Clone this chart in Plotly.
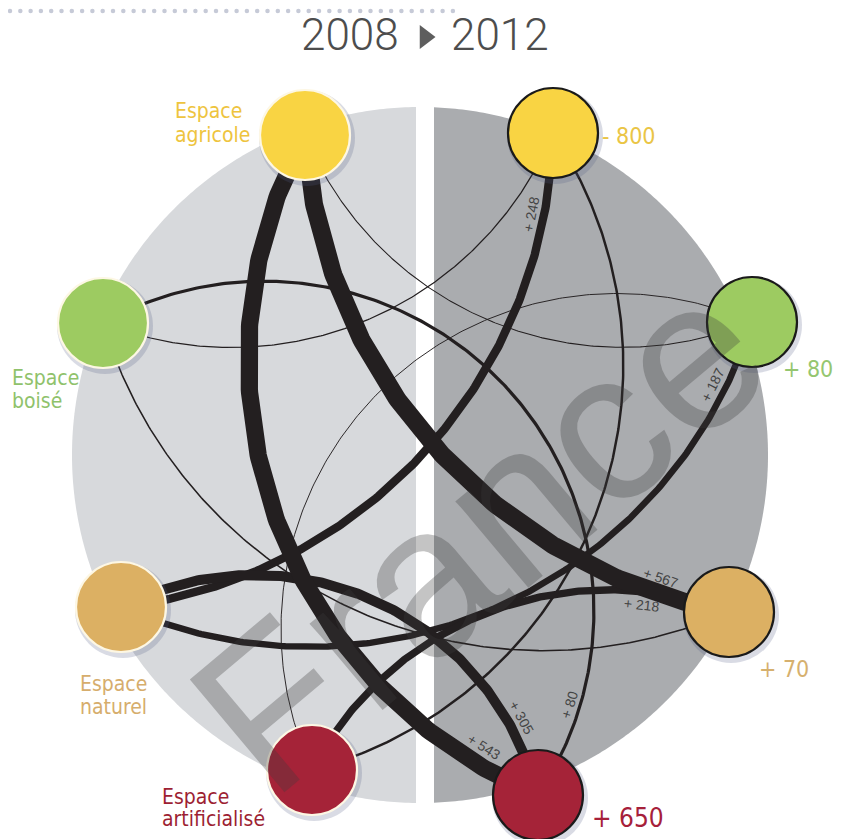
import numpy as np
import plotly.graph_objects as go

# ---------------- data ----------------
categories = ["agricole", "boisé", "naturel", "artificialisé"]
cat_label_lines = [["Espace", "agricole"], ["Espace", "boisé"],
                   ["Espace", "naturel"], ["Espace", "artificialisé"]]
net_change_labels = ["- 800", "+ 80", "+ 70", "+ 650"]
year_start = "2008"
year_end = "2012"
watermark = "France"

flow_source = ["agricole", "agricole", "agricole",
               "boisé", "boisé", "boisé",
               "naturel", "naturel", "naturel",
               "artificialisé", "artificialisé", "artificialisé"]
flow_target = ["boisé", "naturel", "artificialisé",
               "agricole", "naturel", "artificialisé",
               "agricole", "boisé", "artificialisé",
               "agricole", "boisé", "naturel"]
flow_value = [8, 567, 543, 15, 25, 80, 248, 187, 305, 55, 5, 218]
flow_labelled = [False, True, True, False, False, True, True, True, True, False, False, True]

# ---------------- layout / style ----------------
W, H = 843, 839
PAGE_OFF = 8          # browser default body margin
BG_CX, BG_CY, BG_R = 420, 455, 348
GAP_L, GAP_R = 416, 434
node_left = {"agricole": (305, 135), "boisé": (103, 323), "naturel": (121, 607), "artificialisé": (312, 770)}
node_right = {"agricole": (553, 133), "boisé": (752, 322), "naturel": (729, 612), "artificialisé": (538, 795)}
NODE_D = 90
node_fill = {"agricole": "#f9d443", "boisé": "#9dcb61", "naturel": "#dcb063", "artificialisé": "#a52338"}
label_color = {"agricole": "#eec43e", "boisé": "#8fc26b", "naturel": "#d6ad6c", "artificialisé": "#9d1f33"}
net_color = {"agricole": "#eac545", "boisé": "#95c670", "naturel": "#d6b06e", "artificialisé": "#a6203a"}
# sagitta of each flow arc (px, signed)
flow_bend = [100, 110, 155, 100, 155, -253, 120, 155, -110, 175, -217, -85]
# label placement: fraction along arc, perpendicular offset
flow_label_t = [0, 0.89, 0.91, 0, 0, 0.89, 0.88, 0.905, 0.855, 0, 0, 0.82]
flow_label_off = [0, -16, -18, 0, 0, 11, -13, -13, -14, 0, 0, 13]

label_pos = {"agricole": (173, 111, 135), "boisé": (10, 378, 401),
             "naturel": (78, 684, 707), "artificialisé": (160, 797, 819)}
net_pos = {"agricole": (600, 136, "left"), "boisé": (835, 369, "right"),
           "naturel": (757, 669, "left"), "artificialisé": (590, 818, "left")}

NARROW = "DejaVu Sans Condensed, Liberation Sans Narrow, sans-serif"
LINE_COL = "#231f20"


def width_of(v):
    return 0.8 + v / 33.0


def arc(p0, p1, h):
    p0 = np.asarray(p0, float)
    p1 = np.asarray(p1, float)
    d = p1 - p0
    c = np.hypot(*d)
    u = d / c
    nv = np.array([-u[1], u[0]])
    mid = (p0 + p1) / 2
    R = (c * c / 4 + h * h) / (2 * h)
    ctr = mid + nv * (h - R)
    a0 = np.arctan2(p0[1] - ctr[1], p0[0] - ctr[0])
    a1 = np.arctan2(p1[1] - ctr[1], p1[0] - ctr[0])
    da = (a1 - a0 + np.pi) % (2 * np.pi) - np.pi
    return ctr, abs(R), a0, da


def arc_xy(ctr, r, a0, da, t):
    a = a0 + da * np.asarray(t)
    return ctr[0] + r * np.cos(a), ctr[1] + r * np.sin(a)


fig = go.Figure()


def half_path(side):
    if side == "L":
        dl = np.arcsin((GAP_L - BG_CX) / BG_R)
        th = np.linspace(np.pi / 2 - dl, 3 * np.pi / 2 + dl, 300)
    else:
        dr = np.arcsin((GAP_R - BG_CX) / BG_R)
        th = np.linspace(-np.pi / 2 + dr, np.pi / 2 - dr, 300)
    xs = BG_CX + BG_R * np.cos(th)
    ys = BG_CY + BG_R * np.sin(th)
    return "M " + " L ".join(f"{x:.2f},{y:.2f}" for x, y in zip(xs, ys)) + " Z"


shapes = [
    dict(type="path", path=half_path("L"), fillcolor="#d7d9dc", line=dict(width=0), layer="below"),
    dict(type="path", path=half_path("R"), fillcolor="#aaacaf", line=dict(width=0), layer="below"),
]

# dotted rule at the top
dots_x = np.arange(10, 462, 10.3)
fig.add_trace(go.Scatter(x=dots_x, y=np.full(len(dots_x), 11), mode="markers",
                         marker=dict(size=4.5, color="#c6cad7"), hoverinfo="skip"))

annotations = []

# flows
order = np.argsort(flow_value)
for i in order:
    p0 = node_left[flow_source[i]]
    p1 = node_right[flow_target[i]]
    ctr, r, a0, da = arc(p0, p1, flow_bend[i])
    xs, ys = arc_xy(ctr, r, a0, da, np.linspace(0, 1, 240))
    fig.add_trace(go.Scatter(x=xs, y=ys, mode="lines",
                             line=dict(color=LINE_COL, width=width_of(flow_value[i])),
                             hoverinfo="skip"))
    if flow_labelled[i]:
        t = flow_label_t[i]
        px, py = arc_xy(ctr, r, a0, da, t)
        a = a0 + da * t
        tx, ty = -np.sin(a) * np.sign(da), np.cos(a) * np.sign(da)
        nx, ny = -ty, tx
        off = flow_label_off[i]
        ang = np.degrees(np.arctan2(ty, tx))
        if ang > 90:
            ang -= 180
        if ang <= -90:
            ang += 180
        annotations.append(dict(x=px + nx * off, y=py + ny * off, text=f"+ {flow_value[i]}",
                                showarrow=False, textangle=ang,
                                font=dict(family="Liberation Sans, Arial, sans-serif", size=14, color="#444444"),
                                xanchor="center", yanchor="middle"))

# nodes
for side, nodes, border in (("L", node_left, "#fdf7e4"), ("R", node_right, "#1a1a1a")):
    xs = [nodes[c][0] for c in categories]
    ys = [nodes[c][1] for c in categories]
    fig.add_trace(go.Scatter(x=[x + 2 for x in xs], y=[y + 3 for y in ys], mode="markers",
                             marker=dict(size=NODE_D + 6, color="rgba(80,90,130,0.22)", line=dict(width=0)),
                             hoverinfo="skip"))
    fig.add_trace(go.Scatter(x=xs, y=ys, mode="markers",
                             marker=dict(size=NODE_D, color=[node_fill[c] for c in categories],
                                         line=dict(width=2.2, color=border)),
                             hoverinfo="skip"))

# category labels
for c, lines in zip(categories, cat_label_lines):
    x, y1, y2 = label_pos[c]
    for txt, yy in zip(lines, (y1, y2)):
        annotations.append(dict(x=x, y=yy, text=txt, showarrow=False, xanchor="left", yanchor="middle",
                                font=dict(family=NARROW, size=21, color=label_color[c])))

# net change labels
for c, txt in zip(categories, net_change_labels):
    x, y, anc = net_pos[c]
    annotations.append(dict(x=x, y=y, text=txt, showarrow=False, xanchor=anc, yanchor="middle",
                            font=dict(family=NARROW, size=26 if c == "artificialisé" else 23,
                                      color=net_color[c])))

# title
annotations.append(dict(x=401, y=35, text=year_start, showarrow=False, xanchor="right", yanchor="middle",
                        font=dict(family="Roboto", size=44, color="#4d4d4d", weight=300)))
annotations.append(dict(x=449, y=35, text=year_end, showarrow=False, xanchor="left", yanchor="middle",
                        font=dict(family="Roboto", size=44, color="#4d4d4d", weight=300)))
fig.add_trace(go.Scatter(x=[425], y=[37], mode="markers",
                         marker=dict(symbol="triangle-right", size=21, color="#5e5e5e"), hoverinfo="skip"))

# watermark
annotations.append(dict(x=478, y=532, text=watermark, showarrow=False, textangle=-40,
                        font=dict(family="Liberation Sans, Arial, sans-serif", size=214,
                                  color="rgba(60,60,60,0.30)"),
                        xanchor="center", yanchor="middle"))

fig.update_layout(
    width=W - PAGE_OFF, height=H - PAGE_OFF, margin=dict(l=0, r=0, t=0, b=0),
    paper_bgcolor="white", plot_bgcolor="white", showlegend=False,
    xaxis=dict(range=[PAGE_OFF, W], visible=False, fixedrange=True),
    yaxis=dict(range=[H, PAGE_OFF], visible=False, fixedrange=True),
    shapes=shapes, annotations=annotations,
)
fig.write_html("out.html")
